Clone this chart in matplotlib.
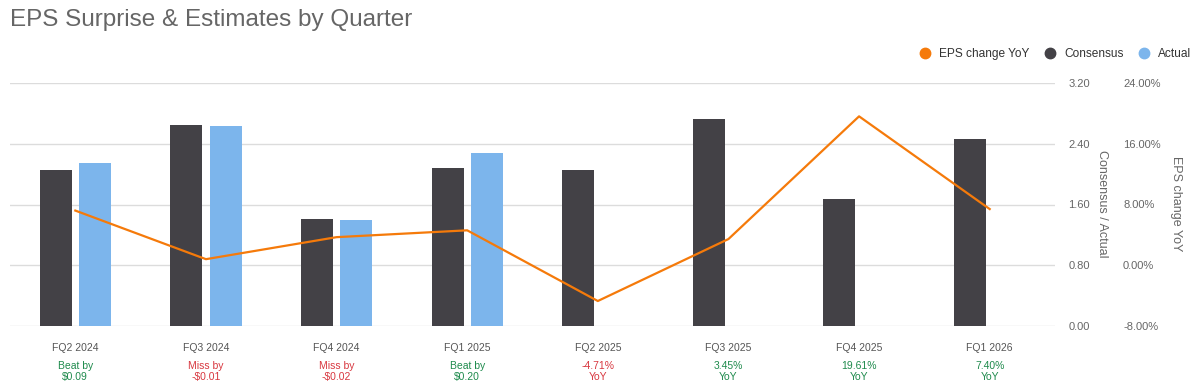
import numpy as np
import matplotlib.pyplot as plt
from matplotlib.lines import Line2D

plt.rcParams['font.family'] = ['Liberation Sans', 'DejaVu Sans']

quarters = ['FQ2 2024', 'FQ3 2024', 'FQ4 2024', 'FQ1 2025',
            'FQ2 2025', 'FQ3 2025', 'FQ4 2025', 'FQ1 2026']
consensus = [2.06, 2.65, 1.41, 2.08, 2.05, 2.72, 1.67, 2.46]
actual = [2.15, 2.64, 1.39, 2.28, np.nan, np.nan, np.nan, np.nan]
eps_yoy = [7.2, 0.8, 3.7, 4.6, -4.71, 3.45, 19.61, 7.40]
notes = ['Beat by\n$0.09', 'Miss by\n-$0.01', 'Miss by\n-$0.02', 'Beat by\n$0.20',
         '-4.71%\nYoY', '3.45%\nYoY', '19.61%\nYoY', '7.40%\nYoY']
note_good = [True, False, False, True, False, True, True, True]

c_cons = '#434146'
c_act = '#7cb5ec'
c_line = '#f57a0a'
c_txt = '#666666'
green = '#1e8a4c'
red = '#d8373f'

fig = plt.figure(figsize=(12, 3.92), dpi=100)
ax = fig.add_axes([10/1200, 1 - 326/392, 1045/1200, 243/392])
ax2 = ax.twinx()

x = np.arange(len(quarters))
w = 0.245
ax.bar(x - 0.15, consensus, width=w, color=c_cons, zorder=2)
ax.bar(x + 0.15, actual, width=w, color=c_act, zorder=2)

ax.set_xlim(-0.5, len(quarters) - 0.5)
ax.set_ylim(0, 3.2)
ax.set_yticks([0, 0.8, 1.6, 2.4, 3.2])
ax.set_yticklabels(['0.00', '0.80', '1.60', '2.40', '3.20'])
ax.yaxis.tick_right()
ax.tick_params(axis='y', length=0, pad=9.5, labelsize=8, labelcolor=c_txt)
ax.grid(axis='y', color='#dcdcdc', lw=1, zorder=0)
ax.set_xticks(x)
ax.set_xticklabels(quarters)
ax.tick_params(axis='x', length=0, pad=12, labelsize=7.5, labelcolor='#555555')
for s in ax.spines.values():
    s.set_visible(False)

ax2.plot(x, eps_yoy, color=c_line, lw=1.6, zorder=3)
ax2.set_ylim(-8, 24)
ax2.set_yticks([-8, 0, 8, 16, 24])
ax2.set_yticklabels(['-8.00%', '0.00%', '8.00%', '16.00%', '24.00%'])
ax2.tick_params(axis='y', length=0, pad=49, labelsize=8, labelcolor=c_txt)
for s in ax2.spines.values():
    s.set_visible(False)

for i, (n, g) in enumerate(zip(notes, note_good)):
    ax.annotate(n, xy=(i, 0), xycoords=('data', 'axes fraction'),
                xytext=(0, -25), textcoords='offset points',
                ha='center', va='top', fontsize=7.5, linespacing=1.15,
                color=green if g else red)

fig.text(1102/1200, 1 - 204/392, 'Consensus / Actual', rotation=270,
         ha='center', va='center', fontsize=9, color=c_txt)
fig.text(1176/1200, 1 - 204/392, 'EPS change YoY', rotation=270,
         ha='center', va='center', fontsize=9, color=c_txt)

fig.text(10/1200, 1 - 20/392, 'EPS Surprise & Estimates by Quarter',
         ha='left', va='center', fontsize=17.5, color='#666666')

handles = [Line2D([], [], marker='o', ls='none', color=c_line, markersize=7.5),
           Line2D([], [], marker='o', ls='none', color=c_cons, markersize=7.5),
           Line2D([], [], marker='o', ls='none', color=c_act, markersize=7.5)]
fig.legend(handles, ['EPS change YoY', 'Consensus', 'Actual'], ncol=3,
           loc='center right', bbox_to_anchor=(1202/1200, 1 - 54/392),
           frameon=False, fontsize=8.6, handletextpad=0.4, handlelength=1.5,
           columnspacing=1.0, labelcolor='#333333')

fig.savefig('out.png', dpi=100, facecolor='white')
